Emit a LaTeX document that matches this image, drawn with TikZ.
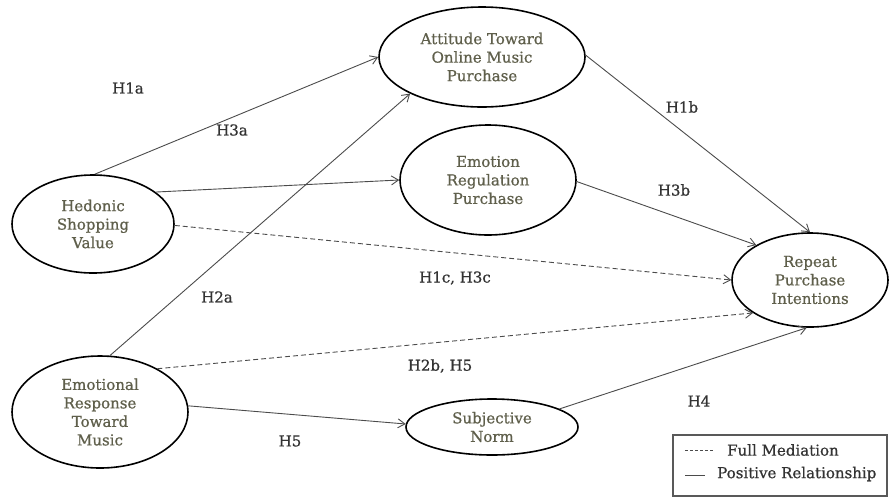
\documentclass[tikz,border=0pt]{standalone}
\usepackage{fontspec}
\setmainfont{DejaVu Serif}[BoldFont=DejaVu Serif, BoldFeatures={FakeBold=0.8}]
\usetikzlibrary{arrows.meta, shapes.geometric}
\definecolor{nodetext}{RGB}{95,95,75}
\definecolor{linegray}{RGB}{75,75,75}
\tikzset{
  construct/.style={draw=black, ellipse, line width=1.6pt, inner sep=0pt, align=center, font=\fontsize{15}{18.5}\selectfont\bfseries, text=nodetext},
  arrow/.style={-{Straight Barb[length=7pt,width=9pt]}, line width=0.9pt, draw=linegray},
  dasharrow/.style={arrow, dash pattern=on 5pt off 3pt},
  hyp/.style={font=\fontsize{15}{17}\selectfont\bfseries, text=black!80},
  legend/.style={draw=black!65, line width=1.2pt}
}

\begin{document}
\begin{tikzpicture}[x=1pt, y=-1pt]
\useasboundingbox (0,0) rectangle (893,499);

\node[construct, minimum width=206pt, minimum height=100pt] (att) at (482,57) {Attitude Toward\\Online Music\\Purchase};
\node[construct, minimum width=176pt, minimum height=110pt] (erp) at (488,180) {Emotion\\Regulation\\Purchase};
\node[construct, minimum width=162pt, minimum height=98pt] (hsv) at (93,224) {Hedonic\\Shopping\\Value};
\node[construct, minimum width=176pt, minimum height=112pt] (erm) at (100,412) {Emotional\\Response\\Toward\\Music};
\node[construct, minimum width=172pt, minimum height=56pt] (sn) at (492,427) {Subjective\\Norm};
\node[construct, minimum width=156pt, minimum height=94pt] (rpi) at (810,280) {Repeat\\Purchase\\Intentions};

\draw[arrow] (hsv.88) -- (att.180);
\draw[arrow] (hsv.27) -- (erp.180);
\draw[dasharrow] (hsv.-1) -- (rpi.180);
\draw[arrow] (erm.80) -- (att.207);
\draw[dasharrow] (erm.37) -- (rpi.210);
\draw[arrow] (erm.4) -- (sn.178);
\draw[arrow] (att.1) -- (rpi.90);
\draw[arrow] (erp.-1) -- (rpi.147);
\draw[arrow] (sn.15) -- (rpi.266);

\node[hyp] (h1a) at (128,88) {H1a};
\node[hyp] (h3a) at (232,130) {H3a};
\node[hyp] (h1b) at (682,107) {H1b};
\node[hyp] (h3b) at (674,190) {H3b};
\node[hyp] (h1c) at (455,278) {H1c, H3c};
\node[hyp] (h2a) at (217,297) {H2a};
\node[hyp] (h2b) at (440,366) {H2b, H5};
\node[hyp] (h5) at (290,441) {H5};
\node[hyp] (h4) at (699,401) {H4};

% legend
\node[legend, minimum width=214pt, minimum height=61pt] (key) at (780,465.5) {};
\coordinate (fm) at (685,450);
\coordinate (pr) at (685,475);
\draw[linegray, line width=0.9pt, dash pattern=on 3pt off 2pt] (fm) -- ++(28,0);
\draw[linegray, line width=0.9pt] (pr) -- ++(20,0);
\node[hyp, anchor=west, inner sep=0pt] (fmtext) at (727,450) {Full Mediation};
\node[hyp, anchor=west, inner sep=0pt] (prtext) at (717,474) {Positive Relationship};
\end{tikzpicture}
\end{document}
